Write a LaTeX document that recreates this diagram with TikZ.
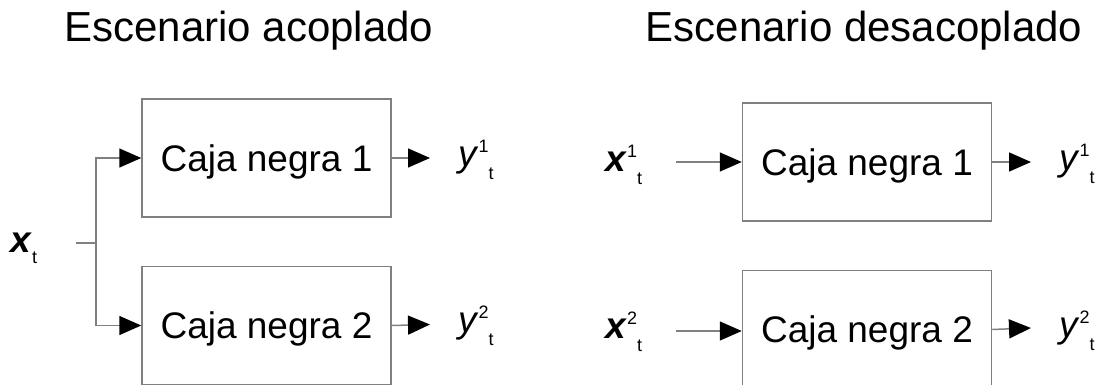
\documentclass[tikz,border=0pt]{standalone}
\usepackage{fontspec}
\setmainfont{Liberation Sans}
\usetikzlibrary{arrows.meta,positioning}
\definecolor{linegray}{RGB}{128,128,128}
\newcommand{\sigvar}[2]{#1\raisebox{14pt}{\fontsize{18pt}{18pt}\selectfont #2}\raisebox{-13pt}{\fontsize{18pt}{18pt}\selectfont t}}
\newcommand{\sigin}{\raisebox{-11pt}{\fontsize{18pt}{18pt}\selectfont t}}

\begin{document}
\begin{tikzpicture}[x=1pt,y=-1pt,
    blackbox/.style={draw=linegray, line width=1.5pt, rectangle, minimum width=249pt, minimum height=118pt, inner sep=0pt,
      font=\fontsize{37pt}{40pt}\selectfont, text height=29.6pt, text depth=3.1pt},
    flow/.style={draw=linegray, line width=1.5pt, -{Triangle[length=22pt,width=19pt,color=black]}},
    sig/.style={anchor=base west, inner sep=0pt, font=\fontsize{37pt}{40pt}\selectfont},
    title/.style={anchor=base, inner sep=0pt, font=\fontsize{42pt}{46pt}\selectfont}]
    \useasboundingbox (0,0) rectangle (1104,385);

    % Titles
    \node[title] (tcoup) at (249,42) {Escenario acoplado};
    \node[title] (tdec) at (864,42) {Escenario desacoplado};

    % Coupled scenario
    \node[blackbox] (box1) at (266.5,158) {Caja negra 1};
    \node[blackbox, below=48pt of box1] (box2) {Caja negra 2};
    \node[sig] (xt) at (10,252) {\textbf{\textit{x}}\sigin};
    \node[sig] (ya) at (458,167) {\sigvar{\textit{y}}{1}};
    \node[sig] (yb) at (458,332) {\sigvar{\textit{y}}{2}};
    \coordinate (xin) at (76,243);
    \coordinate (fork) at (96,243);
    \coordinate (outa) at (430,158);
    \coordinate (outb) at (430,324.5);
    \draw[draw=linegray, line width=1.5pt] (xin) -- (fork);
    \draw[flow] (fork) |- (box1.west);
    \draw[flow] (fork) |- (box2.west);
    \draw[flow] (box1.east) -- (outa);
    \draw[flow] (box2.east) -- (outb);

    % Decoupled scenario
    \node[blackbox] (rbox1) at (867,162) {Caja negra 1};
    \node[blackbox, below=48pt of rbox1] (rbox2) {Caja negra 2};
    \node[sig] (xa) at (605,172) {\sigvar{\textbf{\textit{x}}}{1}};
    \node[sig] (xb) at (605,338) {\sigvar{\textbf{\textit{x}}}{2}};
    \node[sig] (yc) at (1059,171) {\sigvar{\textit{y}}{1}};
    \node[sig] (yd) at (1059,337) {\sigvar{\textit{y}}{2}};
    \coordinate (ina) at (676,162);
    \coordinate (inb) at (676,331);
    \coordinate (outc) at (1031,162);
    \coordinate (outd) at (1031,328);
    \draw[flow] (ina) -- (rbox1.west);
    \draw[flow] (inb) -- (inb -| rbox2.west);
    \draw[flow] (rbox1.east) -- (outc);
    \draw[flow] (rbox2.east) -- (outd);
\end{tikzpicture}
\end{document}
